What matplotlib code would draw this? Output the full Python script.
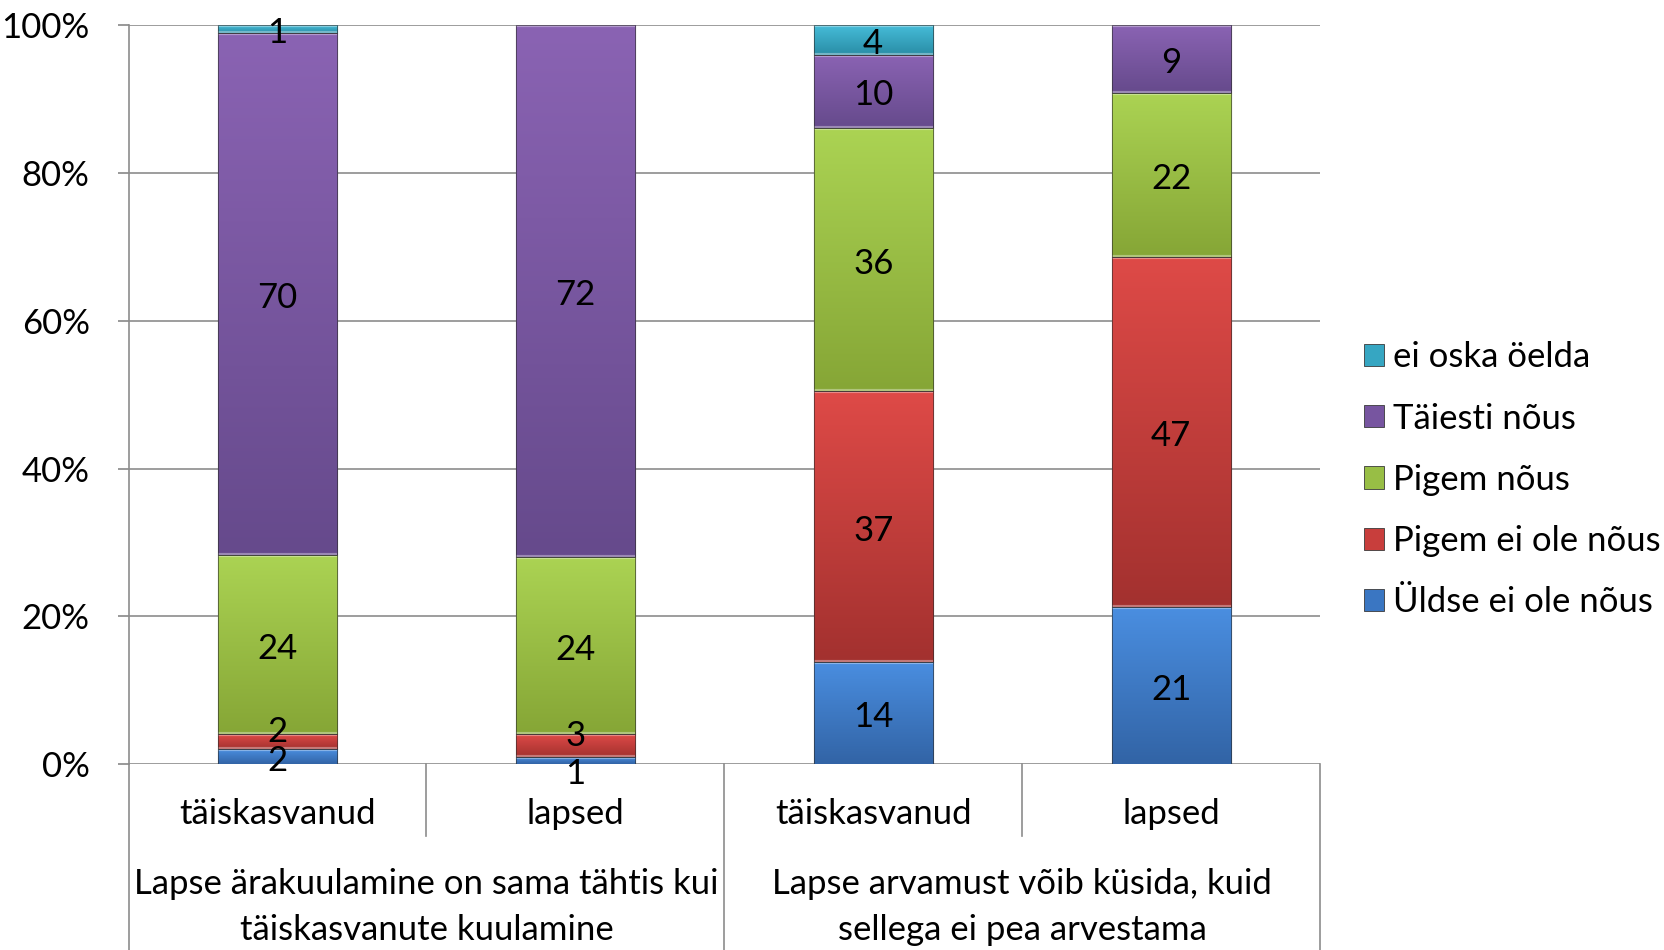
import numpy as np
import matplotlib
matplotlib.use('Agg')
import matplotlib.pyplot as plt
from matplotlib.colors import to_rgb
from matplotlib.patches import Patch
from matplotlib.ticker import PercentFormatter

# data
categories = ['täiskasvanud', 'lapsed', 'täiskasvanud', 'lapsed']
groups = ['Lapse ärakuulamine on sama tähtis kui\ntäiskasvanute kuulamine',
          'Lapse arvamust võib küsida, kuid\nsellega ei pea arvestama']
series = ['Üldse ei ole nõus', 'Pigem ei ole nõus', 'Pigem nõus', 'Täiesti nõus', 'ei oska öelda']
yldse = [2, 1, 14, 21]
pigem_ei = [2, 3, 37, 47]
pigem = [24, 24, 36, 22]
taiesti = [70, 72, 10, 9]
ei_oska = [1, 0, 4, 0]

# top / bottom colours of each segment gradient
colors_top = ['#4A8EE0', '#DE4A47', '#ABD353', '#8A63B3', '#45BCD8']
colors_bot = ['#3264A6', '#A3312F', '#86A636', '#664A8C', '#2A8DA6']
legend_cols = ['#3A76C2', '#C83E3C', '#98BE45', '#7755A0', '#36A6C2']

# small-segment label nudges (points), keyed by (series, bar)
label_nudge = {(1, 0): 10, (0, 1): -7, (1, 1): 10}

plt.rcParams['font.family'] = ['Lato', 'DejaVu Sans']
FS = 25

fig = plt.figure(figsize=(16.65, 9.5), dpi=100)
ax = fig.add_axes([0.0772, 0.1958, 0.7156, 0.7774])

values = np.array([yldse, pigem_ei, pigem, taiesti, ei_oska], dtype=float)
pct = values / values.sum(axis=0) * 100
x = np.arange(len(categories))
width = 0.40

bottom = np.zeros(len(categories))
for i, name in enumerate(series):
    bars = ax.bar(x, pct[i], width, bottom=bottom, color=legend_cols[i],
                  edgecolor='#3a3a3a', linewidth=0.8, zorder=3)
    c_top = np.array(to_rgb(colors_top[i]))
    c_bot = np.array(to_rgb(colors_bot[i]))
    for j, b in enumerate(bars):
        if pct[i][j] <= 0:
            continue
        t = np.linspace(0, 1, 64)[:, None]
        grad = (c_top * (1 - t) + c_bot * t)[:, None, :]
        x0, y0 = b.get_x(), b.get_y()
        w, h = b.get_width(), b.get_height()
        im = ax.imshow(grad, extent=(x0, x0 + w, y0, y0 + h), origin='upper',
                       aspect='auto', zorder=3.5, interpolation='bilinear')
        im.set_clip_path(b)
        # light bevel strip at the top of each segment
        ax.plot([x0, x0 + w], [y0 + h, y0 + h], color='white', alpha=0.35,
                lw=3, zorder=3.6, solid_capstyle='butt')
        ax.plot([x0, x0 + w, x0 + w, x0, x0], [y0 + h, y0 + h, y0, y0, y0 + h],
                color='#2a2a2a', lw=0.7, alpha=0.6, zorder=3.7)
        dy = label_nudge.get((i, j), 0) - 3
        ax.annotate(f'{int(values[i][j])}', (x[j], y0 + h / 2), xytext=(0, dy),
                    textcoords='offset points', ha='center', va='center',
                    fontsize=FS, color='black', zorder=5)
    bottom += pct[i]

ax.set_xlim(-0.5, len(categories) - 0.5)
ax.set_ylim(0, 100)
ax.yaxis.set_major_formatter(PercentFormatter(decimals=0))
ax.set_yticks(np.arange(0, 101, 20))
ax.tick_params(axis='y', labelsize=FS, length=8, color='#888888', pad=20, width=1.2)
ax.set_xticks([])
ax.grid(axis='y', color='#8c8c8c', lw=1.2, zorder=0)
for s in ['top', 'right', 'bottom']:
    ax.spines[s].set_visible(False)
ax.spines['left'].set_color('#8c8c8c')
ax.spines['left'].set_linewidth(1.2)

# multi-level category axis
tr = ax.get_xaxis_transform()
for xb in [-0.5, 0.5, 1.5, 2.5, 3.5]:
    low = -0.255 if xb in (-0.5, 1.5, 3.5) else -0.097
    ax.plot([xb, xb], [0, low], transform=tr, color='#8c8c8c', lw=1.2, clip_on=False)
for j, c in enumerate(categories):
    ax.text(x[j], -0.068, c, transform=tr, ha='center', va='center', fontsize=FS)
for g, lab in enumerate(groups):
    ax.text(g * 2 + 0.5, -0.194, lab, transform=tr, ha='center', va='center',
            fontsize=FS, linespacing=1.55)

handles = [Patch(facecolor=legend_cols[i], edgecolor='#3a3a3a', lw=0.6) for i in range(len(series))][::-1]
fig.legend(handles, series[::-1], loc='center left', bbox_to_anchor=(0.819, 0.495),
           frameon=False, fontsize=FS, handlelength=0.6, handleheight=0.6,
           handletextpad=0.25, labelspacing=0.84, borderpad=0, borderaxespad=0)

fig.savefig('out.png', dpi=100)
